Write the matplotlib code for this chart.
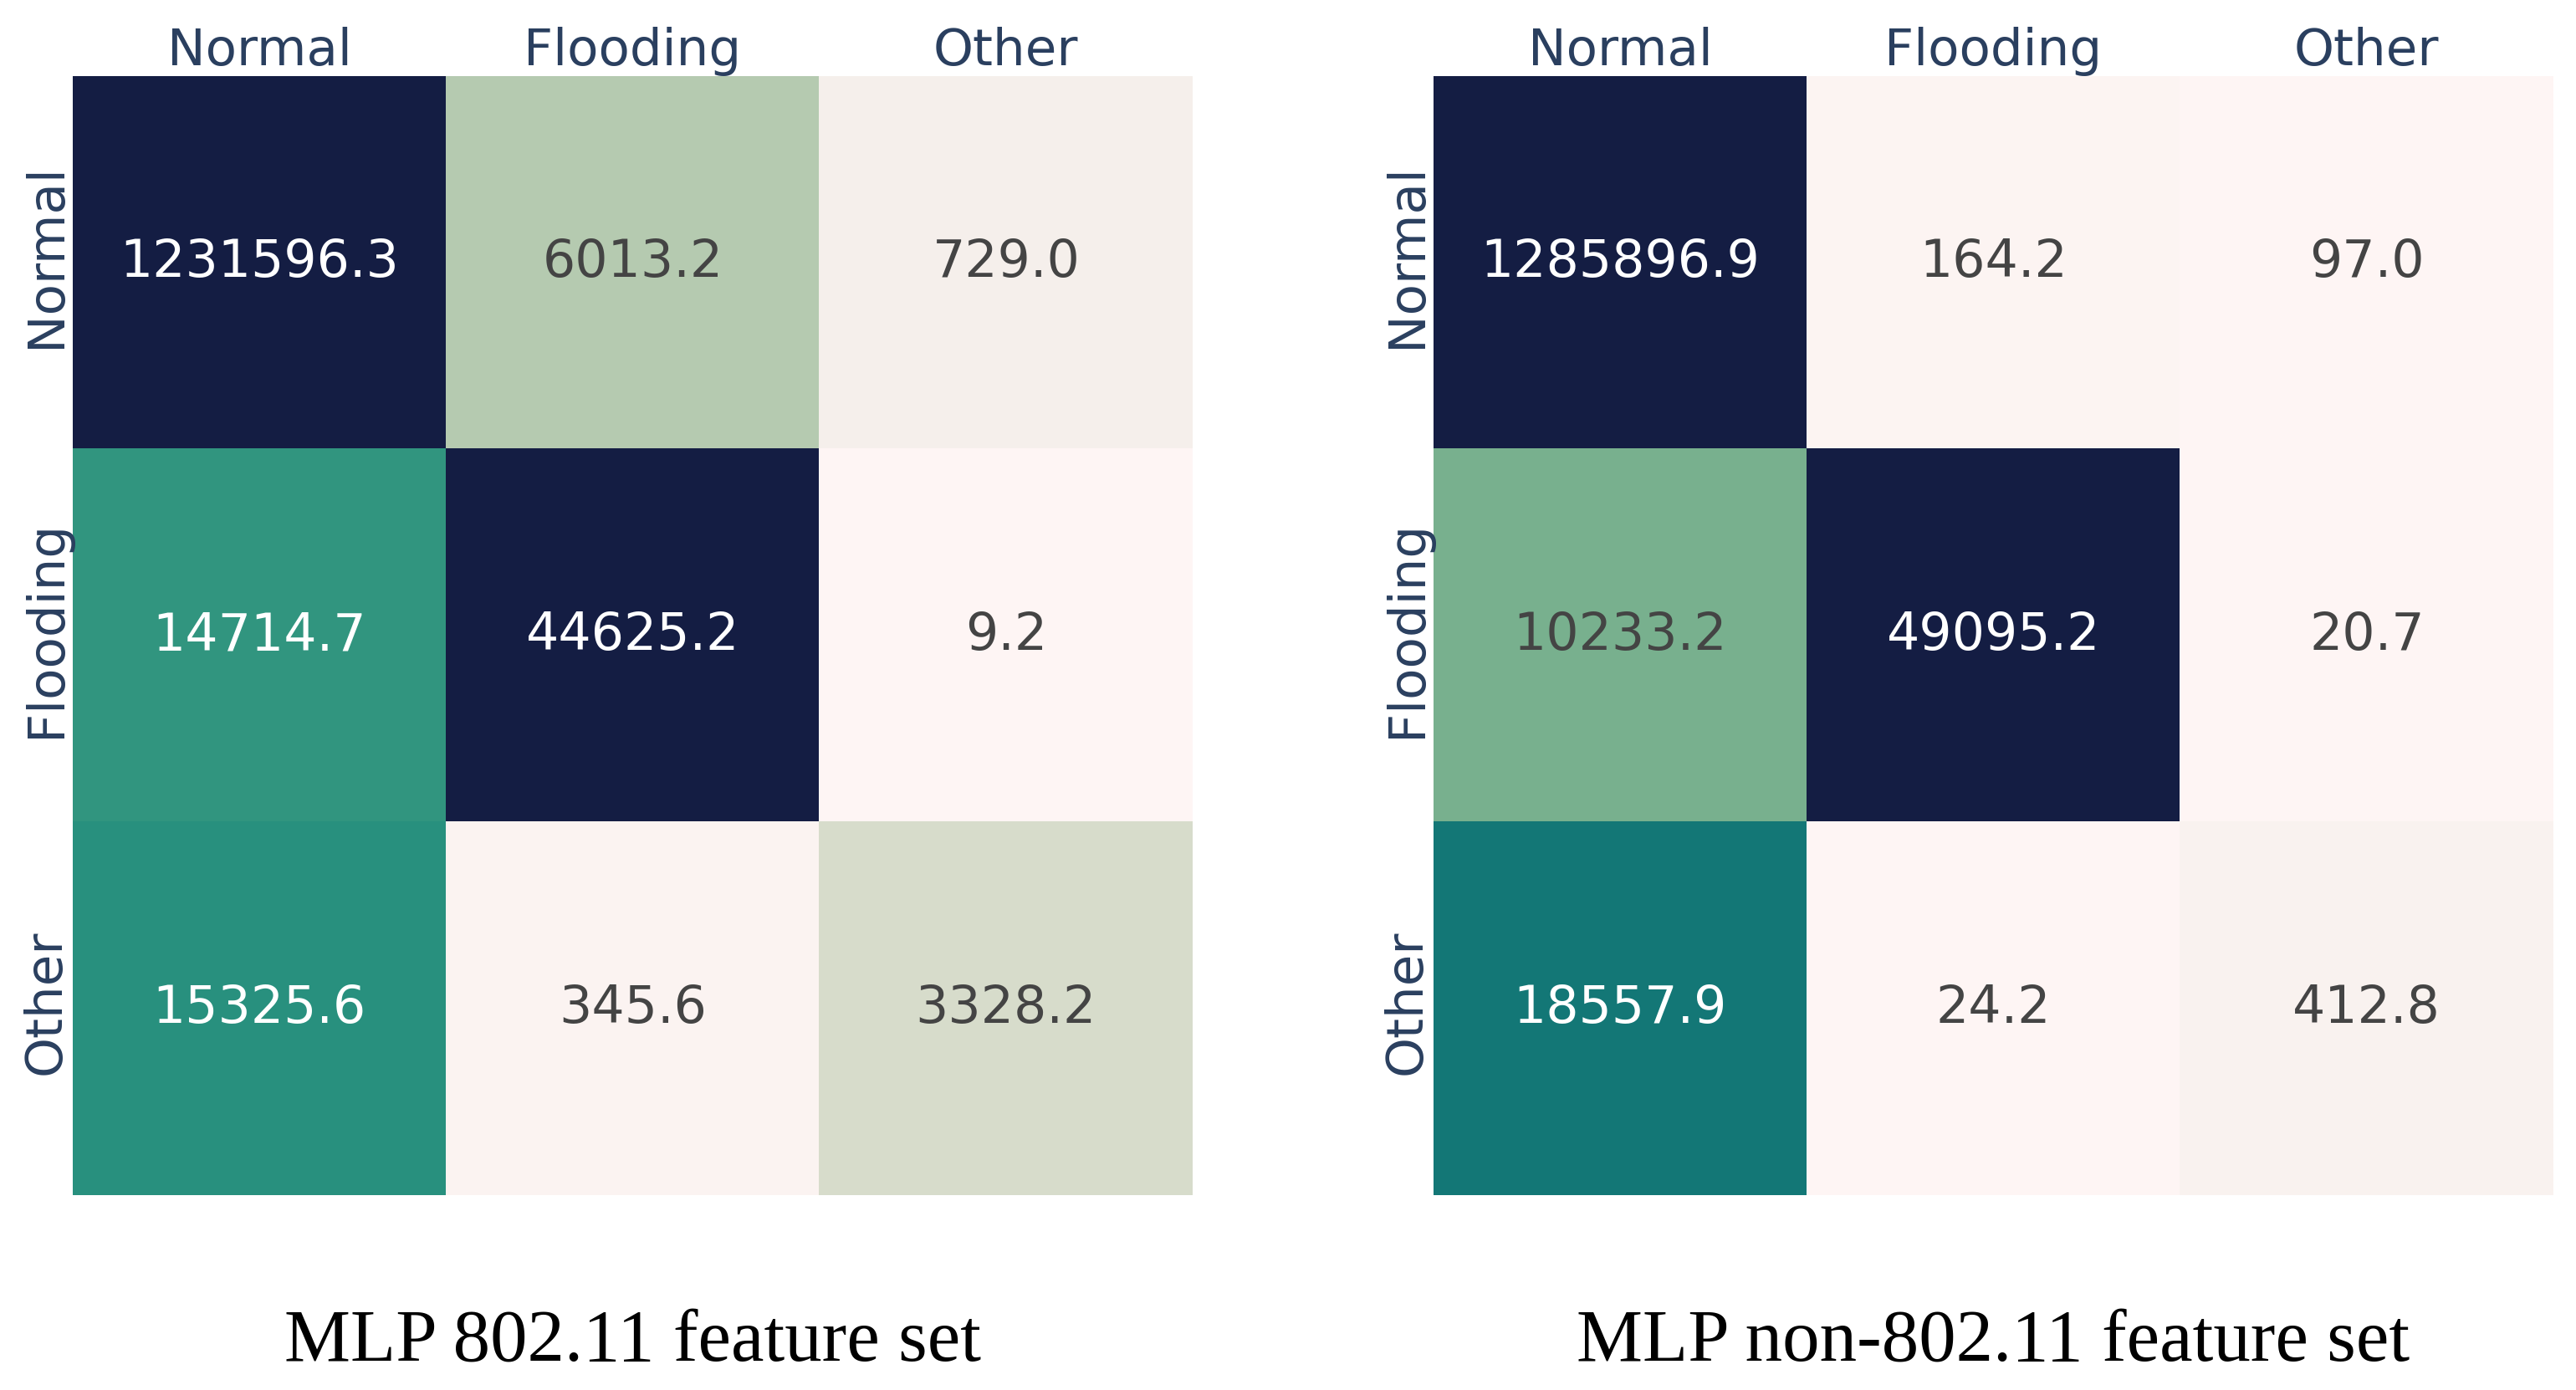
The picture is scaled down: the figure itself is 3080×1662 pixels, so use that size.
import numpy as np
import matplotlib
matplotlib.use("Agg")
import matplotlib.pyplot as plt
import matplotlib.transforms as mtransforms
from matplotlib.colors import LinearSegmentedColormap, Normalize

# ---- data ----
classes = ["Normal", "Flooding", "Other"]
cm_80211 = [
    [1231596.3, 6013.2, 729.0],
    [14714.7, 44625.2, 9.2],
    [15325.6, 345.6, 3328.2],
]
cm_non80211 = [
    [1285896.9, 164.2, 97.0],
    [10233.2, 49095.2, 20.7],
    [18557.9, 24.2, 412.8],
]
titles = ["MLP 802.11 feature set", "MLP non-802.11 feature set"]

# plotly "tempo" colorscale
tempo = ['#fef5f4', '#dee0d2', '#bdceb5', '#99bd9c', '#6ead8a', '#419d81',
         '#19897d', '#127475', '#195e6a', '#1c485d', '#193350', '#141d43']
cmap = LinearSegmentedColormap.from_list("tempo", tempo)
norm = Normalize(vmin=0, vmax=30000)

W, H = 3080, 1662
fig = plt.figure(figsize=(W / 100, H / 100), dpi=100)

label_color = "#2a3f5f"
sans = "DejaVu Sans"
fs_tick = 44
fs_cell = 44.5

axes_px = [(87, 91, 1339, 1338), (1714, 91, 1339, 1338)]
for (x0, y0, w, h), mat, title in zip(axes_px, [cm_80211, cm_non80211], titles):
    ax = fig.add_axes([x0 / W, 1 - (y0 + h) / H, w / W, h / H])
    data = np.array(mat)
    ax.imshow(data, cmap=cmap, norm=norm, aspect="auto", interpolation="nearest")
    for i in range(data.shape[0]):
        for j in range(data.shape[1]):
            v = data[i, j]
            col = "white" if norm(v) > 0.4 else "#444444"
            ax.text(j, i, f"{v:.1f}", ha="center", va="center", color=col,
                    fontsize=fs_cell, family=sans)
    ax.set_xticks(range(len(classes)))
    ax.set_yticks(range(len(classes)))
    ax.set_xticklabels(classes, fontsize=fs_tick, color=label_color, family=sans)
    ax.set_yticklabels(classes, fontsize=fs_tick, color=label_color, family=sans,
                       rotation=90, va="center")
    ax.xaxis.tick_top()
    ax.tick_params(axis="both", length=0, pad=0)
    off = mtransforms.ScaledTranslation(-2 / 100, 8 / 100, fig.dpi_scale_trans)
    for lab in ax.get_yticklabels():
        lab.set_transform(lab.get_transform() + off)
    for s in ax.spines.values():
        s.set_visible(False)
    fig.text((x0 + w / 2) / W, 1 - 1627 / H, title, ha="center", va="baseline",
             fontsize=64, family="Liberation Serif", color="black")

fig.savefig("out.png", dpi=100, facecolor="white")
